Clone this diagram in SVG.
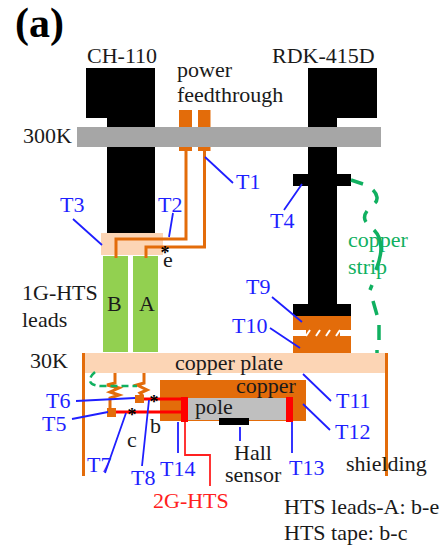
<svg xmlns="http://www.w3.org/2000/svg" width="446" height="548" viewBox="0 0 446 548">
<style>
text{font-family:"Liberation Serif","Times New Roman",serif;font-size:22px;fill:#1a1a1a}
.b{fill:#1f1fff}.g{fill:#10b060}.r{fill:#ff2020}
text.s{text-anchor:middle;fill:#000;font-size:18px;font-weight:bold}
.bl{stroke:#1f1fff;stroke-width:1.8;fill:none}
.or{stroke:#e36c0a;stroke-width:3;fill:none}
.gd{stroke:#10b060;stroke-width:3.500;fill:none}
.k{fill:#000}.o{fill:#e36c0a}.p{fill:#fcd5b5}
</style>
<rect width="446" height="548" fill="#fff"/>
<text x="15" y="37" style="font-size:42px;font-weight:bold;fill:#000">(a)</text>
<g id="ch110"><path class="k" d="M86 68H155V234H107V118H86Z"/><text x="87" y="63">CH-110</text></g>
<g id="rdk415d"><path class="k" d="M308 68H377V118H337V174H351V186H337V304H351V316H293V304H308V186H293V174H308Z"/><text x="272" y="63">RDK-415D</text></g>
<g id="feedthrough"><text x="177" y="77">power</text><text x="177" y="102">feedthrough</text>
<rect class="o" x="179" y="110" width="13" height="41"/><rect class="o" x="198" y="110" width="12.500" height="41"/></g>
<g id="flange"><rect x="77" y="127" width="304" height="20" fill="#a6a6a6"/><text x="23" y="143">300K</text></g>
<g id="leads"><rect class="p" x="101" y="233" width="62" height="22"/>
<rect x="103" y="256" width="25" height="96" fill="#92d050"/><rect x="133" y="256" width="25" height="96" fill="#92d050"/>
<text x="107" y="311">B</text><text x="139" y="311">A</text><text x="22" y="300">1G-HTS</text><text x="22" y="327">leads</text></g>
<g id="plate"><rect class="p" x="84" y="353" width="303" height="20"/><text x="175" y="370">copper plate</text><text x="30" y="368">30K</text>
<rect class="o" x="82" y="353" width="3" height="123"/><rect class="o" x="385" y="353" width="3" height="123"/></g>
<g id="cold"><rect class="o" x="160" y="380" width="146" height="41"/><rect x="188" y="398" width="98" height="22" fill="#bfbfbf"/>
<rect x="181" y="397" width="7" height="25" fill="#ff0000"/><rect x="286" y="397" width="7" height="25" fill="#ff0000"/>
<rect class="k" x="219" y="418" width="30" height="7"/>
<text x="236" y="393">copper</text><text x="195" y="414">pole</text><text x="234" y="460">Hall</text><text x="225" y="482">sensor</text><text x="346" y="471">shielding</text>
<text x="284" y="514">HTS leads-A: b-e</text><text x="284" y="540">HTS tape: b-c</text></g>
<g id="stack"><rect class="o" x="293" y="316" width="58" height="14"/><rect class="o" x="293" y="336" width="58" height="17"/>
<rect class="o" x="306" y="330" width="34" height="6"/>
<path d="M306 336l4-6M316 336l4-6M326 336l4-6M336 336l4-6" stroke="#fff" stroke-width="2" fill="none"/></g>
<g id="connectors">
<path class="or" d="M186 150V239H116V258M204.500 150V247H146V258"/>
<path class="or" d="M115 373V383L107 385 119 388 110 392 119 395 110 398V409M144 373V383L137 385 147 390 140 393 143 396"/>
<rect class="o" x="107" y="408" width="9" height="9"/><rect class="o" x="135" y="395" width="9" height="8"/>
<path d="M144 399H181M116 412H181" stroke="#ff0000" stroke-width="3" fill="none"/>
<path d="M185 422V455H210V486" stroke="#ff2020" stroke-width="1.800" fill="none"/>
<path class="gd" stroke-dasharray="7 4" style="stroke-width:2.500" d="M95 372C88 378 87 385 100 386H137"/>
<path class="gd" d="M351 180L363 184M373 190C378 195 378 200 375 203M367 211C364 215 364 219 366 222M374 230C384 240 382 255 376 270M372 285L370 290M373 301L377 315M379 325V340M377 350V353"/>
<path class="bl" d="M73 219L102 245M205 157L233 183M173 213L169 237M284 210L302 184M272 297L302 322M270 328L300 348M303 374L331 401M303 404L330 430M76 401L135 398M72 419L108 412M105 473L126 413M142 466L149 400M178 422V453M292 422V453M240 427V441"/>
</g>
<g id="labels">
<text class="b" x="236" y="189">T1</text><text class="b" x="158" y="212">T2</text><text class="b" x="60" y="212">T3</text><text class="b" x="270" y="228">T4</text>
<text class="b" x="46" y="408">T6</text><text class="b" x="42" y="431">T5</text><text class="b" x="87" y="472">T7</text><text class="b" x="131" y="485">T8</text><text class="b" x="160" y="476">T14</text><text class="b" x="289" y="475">T13</text>
<text class="b" x="335" y="439">T12</text><text class="b" x="336" y="408">T11</text><text class="b" x="246" y="294">T9</text><text class="b" x="232" y="333">T10</text>
<text class="r" x="153" y="508">2G-HTS</text>
<text class="g" x="348" y="247">copper</text><text class="g" x="348" y="274">strip</text>
<text class="s" x="165" y="259">*</text><text x="163" y="267">e</text><text class="s" x="132" y="421">*</text><text class="s" x="154" y="408">*</text><text x="127" y="447">c</text><text x="150" y="433">b</text>
</g>
</svg>
